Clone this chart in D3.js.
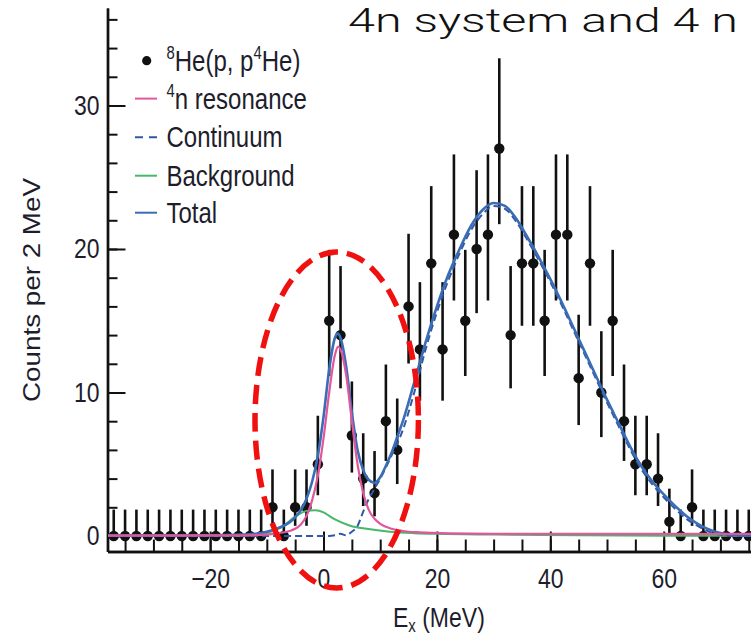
<!DOCTYPE html>
<html><head><meta charset="utf-8">
<script src="https://cdn.jsdelivr.net/npm/d3@7"></script>
<style>html,body{margin:0;padding:0;background:#fff;} svg{display:block;}</style>
</head><body><svg id="c" width="751" height="637"></svg>
<script>
// ---- data ----
const binEnergy = [-37,-35,-33,-31,-29,-27,-25,-23,-21,-19,-17,-15,-13,-11,-9,-7,-5,-3,-1,1,3,5,7,9,11,13,15,17,19,21,23,25,27,29,31,33,35,37,39,41,43,45,47,49,51,53,55,57,59,61,63,65,67,69,71,73,75];
const counts = [0,0,0,0,0,0,0,0,0,0,0,0,0,0,2,0,2,2,5,15,14,7,4,3,8,6,16,13,19,13,21,15,20,21,27,14,19,19,15,21,21,11,19,10,15,8,5,5,4,1,0,2,0,0,0,0,0];
const errLow = [0,0,0,0,0,0,0,0,0,0,0,0,0,0,0.71,0,0.71,0.71,2.84,11.15,10.29,4.42,2.09,1.37,5.23,3.62,12.02,9.43,14.65,9.43,16.41,11.15,15.53,16.41,21.73,10.29,14.65,14.65,11.15,16.41,16.41,7.73,14.65,6.89,11.15,5.23,2.84,2.84,2.09,0.17,0,0.71,0,0,0,0,0];
const errHigh = [1.84,1.84,1.84,1.84,1.84,1.84,1.84,1.84,1.84,1.84,1.84,1.84,1.84,1.84,4.64,1.84,4.64,4.64,8.38,19.94,18.81,10.77,7.16,5.92,11.95,9.58,21.06,17.69,24.38,17.69,26.59,19.94,25.49,26.59,33.29,18.81,24.38,24.38,19.94,26.59,26.59,15.42,24.38,14.27,19.94,11.95,8.38,8.38,7.16,3.30,1.84,4.64,1.84,1.84,1.84,1.84,1.84];

const totalE = [-38,-20,-14,-12,-10,-8,-6,-5,-4,-3,-2,-1,0,1,2,2.5,3,4,5,6,7,8,9,10,11,12,13,14,16,18,20,22,24,26,28,30,32,34,36,38,40,42,44,46,48,50,52,54,56,58,60,62,64,66,68,70,72,75,80];
const totalV = [0.05,0.05,0.1,0.15,0.3,0.55,0.95,1.3,1.8,2.6,3.8,5.6,8.3,11.6,13.8,14.1,13.8,11.8,8.6,6.0,4.6,3.9,3.7,4.1,4.9,5.8,6.9,8.0,10.7,13.5,16.0,18.2,20.0,21.6,22.7,23.2,23.0,22.1,20.8,19.4,17.9,16.3,14.6,12.9,11.2,9.5,7.9,6.3,4.9,3.8,2.9,2.1,1.4,0.85,0.45,0.2,0.08,0.02,0];

const resE = [-38,-14,-10,-8,-6,-5,-4,-3,-2,-1,0,1,2,2.6,3,4,5,6,7,8,9,10,12,14,17,22,30,80];
const resV = [0.02,0.05,0.1,0.2,0.35,0.5,0.8,1.4,2.5,4.2,6.8,10.0,12.6,13.2,13.0,11.2,8.0,5.0,3.0,1.8,1.2,0.85,0.5,0.35,0.25,0.18,0.15,0.15];

const contE = [-38,1,2,3,4,5,6,7,8,9,10,12,14,16,18,20,22,24,26,28,30,32,34,36,38,40,42,44,46,48,50,52,54,56,58,60,62,64,66,68,70,72,80];
const contV = [0,0,0.05,0.15,0.05,0.3,0.7,1.7,2.6,3.3,4.0,5.6,7.4,10.0,13.0,15.6,17.8,19.7,21.3,22.4,23.0,22.8,21.9,20.6,19.2,17.7,16.1,14.4,12.7,11.0,9.3,7.7,6.1,4.7,3.6,2.7,1.9,1.2,0.7,0.3,0.1,0,0];

const bgE = [-38,-16,-14,-12,-10,-8,-7,-6,-5,-4,-3,-1.5,0,1,2.3,4.7,7.6,11.7,16,20,30,45,60,80];
const bgV = [0,0,0.02,0.08,0.2,0.5,0.7,1.05,1.35,1.6,1.75,1.8,1.65,1.4,1.1,0.72,0.5,0.3,0.2,0.15,0.1,0.05,0.02,0];

const xTicksMajor = [-20,0,20,40,60];
const xTicksMinor = [-35,-30,-25,-20,-15,-10,-5,0,5,10,15,20,25,30,35,40,45,50,55,60,65,70,75,80];
const yTicksMajor = [0,10,20,30];
const yTicksMinor = [0,2,4,6,8,10,12,14,16,18,20,22,24,26,28,30,32,34,36];
const legendLabels = ["^8He(p, p^4He)", "^4n resonance", "Continuum", "Background", "Total"];
const titleText = "4n system and 4 n";
const yLabel = "Counts per 2 MeV";
const xLabelMain = "E", xLabelSub = "x", xLabelRest = " (MeV)";

// ---- drawing ----
const FONT = "'Liberation Sans', Arial, Helvetica, sans-serif";
const SY = 1.2; // vertical stretch of the reference figure text
const svg = d3.select("#c");
const x = d3.scaleLinear().domain([-38.1, 80]).range([107.5, 777.1]);
const y = d3.scaleLinear().domain([-1.08, 36.8]).range([551.5, 7.9]);

const C = {total:"#3b6db5", res:"#e2579c", cont:"#2f58a6", bg:"#45b86a", txt:"#1d1d2b"};

// axes
function styleAxis(g){
  g.select(".domain").attr("stroke","#111").attr("stroke-width",2.4);
  g.selectAll(".tick line").attr("stroke","#111").attr("stroke-width",2);
}
const gyMinor = svg.append("g").attr("transform","translate(107.5,0)")
  .call(d3.axisLeft(y).tickValues(yTicksMinor).tickSize(-10).tickSizeOuter(0).tickFormat(""));
styleAxis(gyMinor);
const gyMajor = svg.append("g").attr("transform","translate(107.5,0)")
  .call(d3.axisLeft(y).tickValues(yTicksMajor).tickSize(-18).tickSizeOuter(0).tickPadding(8));
styleAxis(gyMajor);
gyMajor.selectAll(".tick text").attr("font-family",FONT).attr("font-size",23).attr("fill",C.txt)
  .attr("transform",`scale(1,${SY})`);

const gxMinor = svg.append("g").attr("transform","translate(0,551.5)")
  .call(d3.axisBottom(x).tickValues(xTicksMinor).tickSize(-12).tickSizeOuter(0).tickFormat(""));
styleAxis(gxMinor);
const gxMajor = svg.append("g").attr("transform","translate(0,551.5)")
  .call(d3.axisBottom(x).tickValues(xTicksMajor).tickSize(-20).tickSizeOuter(0).tickPadding(14));
styleAxis(gxMajor);
gxMajor.selectAll(".tick text").attr("font-family",FONT).attr("font-size",23).attr("fill",C.txt)
  .attr("transform",`scale(1,${SY})`);

// data points with error bars
const pts = binEnergy.map((e,i)=>({e, c:counts[i], lo:errLow[i], hi:errHigh[i]}));
svg.append("g").selectAll("line").data(pts).join("line")
  .attr("x1",d=>x(d.e)).attr("x2",d=>x(d.e))
  .attr("y1",d=>y(d.lo)).attr("y2",d=>y(d.hi))
  .attr("stroke","#111").attr("stroke-width",2.6);
svg.append("g").selectAll("circle").data(pts).join("circle")
  .attr("cx",d=>x(d.e)).attr("cy",d=>y(d.c)).attr("r",5.2).attr("fill","#111");

// curves
function curve(E,V,color,w,dash){
  const line = d3.line().x(d=>x(d[0])).y(d=>y(d[1])).curve(d3.curveMonotoneX);
  svg.append("path").datum(E.map((e,i)=>[e,V[i]])).attr("d",line)
    .attr("fill","none").attr("stroke",color).attr("stroke-width",w)
    .attr("stroke-dasharray",dash||null).attr("stroke-linejoin","round");
}
curve(bgE,bgV,C.bg,2);
curve(contE,contV,C.cont,2,"7,4");
curve(totalE,totalV,C.total,2.6);
curve(resE,resV,C.res,2.2);

// legend
function richText(g, str, size){
  const t = g.append("text").attr("font-family",FONT).attr("font-size",size).attr("fill",C.txt);
  const parts = str.split(/(\^\d)/).filter(s=>s.length);
  let pending = 0;
  parts.forEach(p=>{
    if(p[0]==="^"){
      t.append("tspan").attr("font-size",size*0.62).attr("dy",pending - size*0.42).text(p.slice(1));
      pending = size*0.42;
    } else {
      t.append("tspan").attr("dy",pending).text(p);
      pending = 0;
    }
  });
  return t;
}
const legendTypes = ["dot","res","cont","bg","total"];
const legendY = [60.7, 98.6, 137.3, 175.7, 212.7];
legendTypes.forEach((tp,i)=>{
  const cy = legendY[i];
  if(tp==="dot") svg.append("circle").attr("cx",146.7).attr("cy",cy).attr("r",4.6).attr("fill","#111");
  else svg.append("line").attr("x1",135).attr("x2",157).attr("y1",cy).attr("y2",cy)
    .attr("stroke", tp==="res"?C.res:tp==="cont"?C.cont:tp==="bg"?C.bg:C.total)
    .attr("stroke-width",2).attr("stroke-dasharray",tp==="cont"?"8,6":null);
  const g = svg.append("g").attr("transform",`translate(166.5,${cy+10}) scale(1,${SY})`);
  richText(g, legendLabels[i], 24);
});

// y label
svg.append("text").attr("transform","translate(40,290) rotate(-90)")
  .attr("text-anchor","middle").attr("font-family",FONT).attr("font-size",23).attr("fill",C.txt)
  .attr("textLength",224).attr("lengthAdjust","spacingAndGlyphs").text(yLabel);

// x label
const gx = svg.append("g").attr("transform",`translate(393,627) scale(1,${SY})`);
const xt = gx.append("text").attr("font-family",FONT).attr("font-size",23).attr("fill",C.txt);
xt.append("tspan").text(xLabelMain);
xt.append("tspan").attr("font-size",15).attr("dy",4).text(xLabelSub);
xt.append("tspan").attr("dy",-4).text(xLabelRest);

// title
svg.append("text").attr("x",348).attr("y",32)
  .attr("font-family","Roboto,'Noto Sans',sans-serif").attr("font-weight",300)
  .attr("font-size",34).attr("fill","#111")
  .attr("textLength",390).attr("lengthAdjust","spacingAndGlyphs").text(titleText);

// red dashed ellipse annotation
svg.append("ellipse").attr("cx",336.7).attr("cy",420).attr("rx",81.7).attr("ry",168)
  .attr("fill","none").attr("stroke","#f01010").attr("stroke-width",5.5)
  .attr("stroke-dasharray","19,9");
</script></body></html>
